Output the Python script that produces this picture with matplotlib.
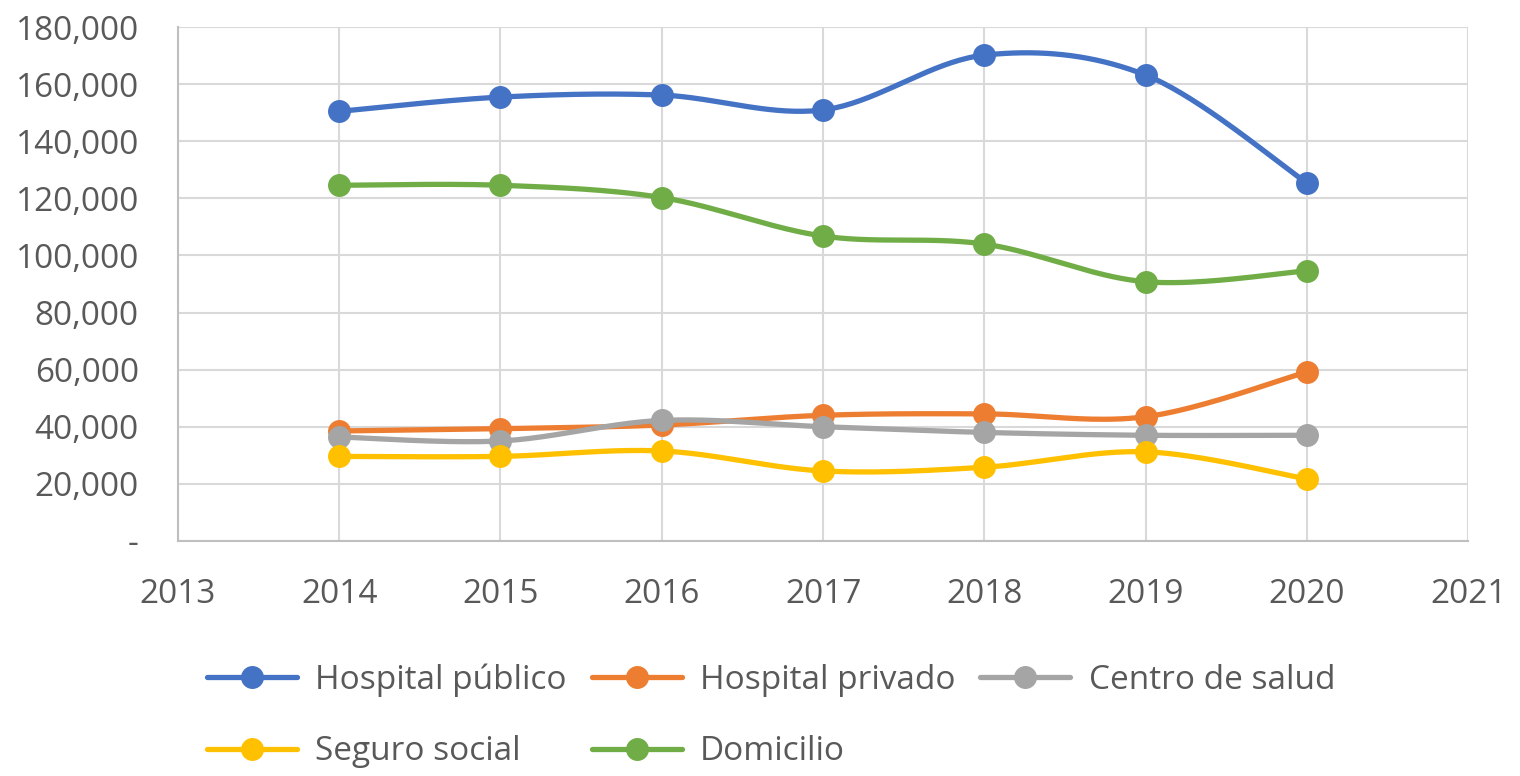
import numpy as np
import matplotlib
matplotlib.use("Agg")
import matplotlib.pyplot as plt
from matplotlib.ticker import FuncFormatter
from matplotlib.lines import Line2D

plt.rcParams['font.family'] = ['Open Sans', 'DejaVu Sans']

years = [2014, 2015, 2016, 2017, 2018, 2019, 2020]
hospital_publico = [150500, 155500, 156200, 151000, 170200, 163200, 125400]
hospital_privado = [38500, 39300, 40600, 44000, 44500, 43500, 59200]
centro_salud = [36400, 35000, 42200, 40000, 38000, 37000, 37000]
seguro_social = [29600, 29600, 31500, 24500, 25800, 31200, 21700]
domicilio = [124600, 124600, 120300, 106800, 104000, 90800, 94600]

series = [
    ("Hospital público", hospital_publico, "#4472C4"),
    ("Hospital privado", hospital_privado, "#ED7D31"),
    ("Centro de salud", centro_salud, "#A5A5A5"),
    ("Seguro social", seguro_social, "#FFC000"),
    ("Domicilio", domicilio, "#70AD47"),
]


def smooth(x, y, n=40):
    x = np.asarray(x, float)
    y = np.asarray(y, float)
    px = np.concatenate([[x[0]], x, [x[-1]]])
    py = np.concatenate([[y[0]], y, [y[-1]]])
    xs, ys = [], []
    t = np.linspace(0, 1, n)
    for i in range(1, len(px) - 2):
        p0 = np.array([px[i], py[i]])
        p3 = np.array([px[i + 1], py[i + 1]])
        p1 = p0 + (np.array([px[i + 1], py[i + 1]]) - np.array([px[i - 1], py[i - 1]])) / 6
        p2 = p3 - (np.array([px[i + 2], py[i + 2]]) - np.array([px[i], py[i]])) / 6
        b = ((1 - t) ** 3)[:, None] * p0 + (3 * (1 - t) ** 2 * t)[:, None] * p1 + \
            (3 * (1 - t) * t ** 2)[:, None] * p2 + (t ** 3)[:, None] * p3
        xs.append(b[:, 0])
        ys.append(b[:, 1])
    return np.concatenate(xs), np.concatenate(ys)


fig = plt.figure(figsize=(15.2, 7.76), dpi=100)
ax = fig.add_axes([0.117, 0.303, 0.849, 0.662])

handles = []
for i, (name, vals, col) in enumerate(series):
    sx, sy = smooth(years, vals)
    ax.plot(sx, sy, color=col, lw=3.8, zorder=3 + i, solid_capstyle='round')
    ax.plot(years, vals, 'o', color=col, ms=15.5, zorder=3 + i)
    handles.append(Line2D([0], [0], color=col, lw=3.8, marker='o', ms=15.5,
                          solid_capstyle='round'))

ax.set_xlim(2013, 2021)
ax.set_ylim(0, 180000)
ax.set_xticks(range(2013, 2022))
ax.set_yticks(range(0, 180001, 20000))
ax.yaxis.set_major_formatter(FuncFormatter(lambda v, p: "-" if v == 0 else f"{int(v):,}"))
ax.grid(True, color="#D9D9D9", lw=1.5, zorder=0)
for s in ['top', 'right']:
    ax.spines[s].set_visible(False)
for s in ['left', 'bottom']:
    ax.spines[s].set_color("#BFBFBF")
    ax.spines[s].set_linewidth(1.5)
ax.tick_params(axis='both', length=0, labelsize=24, colors="#595959")
ax.tick_params(axis='y', pad=28)
ax.tick_params(axis='x', pad=27)

# row-wise legend order (matplotlib fills column-wise)
order = [0, 3, 1, 4, 2]
labels = [series[k][0] for k in order]
fig.legend([handles[k] for k in order], labels, ncol=3, loc='upper left',
           bbox_to_anchor=(0.136, 0.145), frameon=False, fontsize=24,
           labelcolor="#595959", handlelength=2.7, handletextpad=0.55,
           columnspacing=0.75, labelspacing=1.15, borderpad=0, borderaxespad=0)

fig.savefig("out.png", dpi=100)
